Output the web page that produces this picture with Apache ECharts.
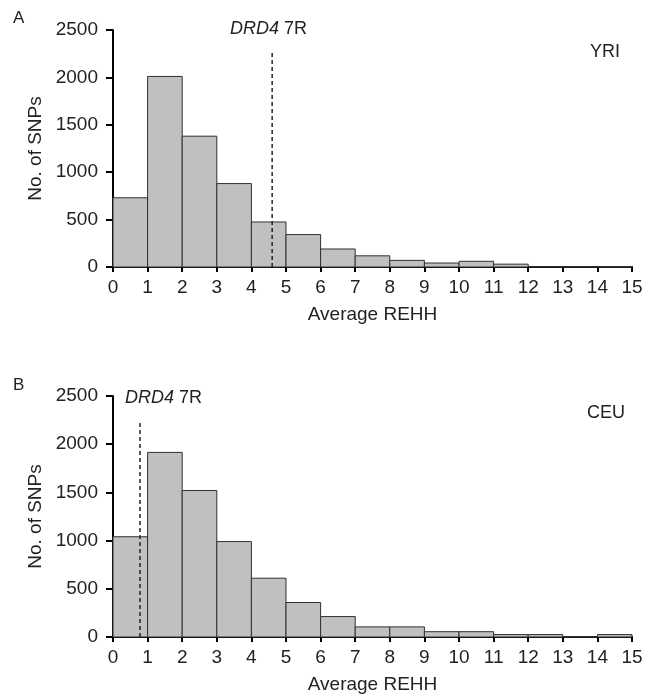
<!DOCTYPE html>
<html>
<head>
<meta charset="utf-8">
<script src="https://cdn.jsdelivr.net/npm/echarts@6/dist/echarts.min.js"></script>
<style>
html,body{margin:0;padding:0;background:#fff;}
#chart{width:655px;height:699px;}
</style>
</head>
<body>
<div id="chart"></div>
<script>
// Bin edges (Average REHH)
var binStarts = [0,1,2,3,4,5,6,7,8,9,10,11,12,13,14];
var xTicks = [0,1,2,3,4,5,6,7,8,9,10,11,12,13,14,15];
var yTicks = [0,500,1000,1500,2000,2500];
// Panel A: YRI counts
var yriCounts = [730,2010,1380,880,475,342,190,118,70,42,60,30,5,3,2];
// Panel B: CEU counts
var ceuCounts = [1040,1915,1520,990,610,358,212,105,105,55,55,25,25,4,25];
// DRD4 7R markers
var yriDrd4 = 4.6, yriDrd4Top = 2290;
var ceuDrd4 = 0.78, ceuDrd4Top = 2230;

var TXT = '#222';
var FONT = 'Liberation Sans, Arial, sans-serif';

function histData(counts){
  return binStarts.map(function(s,i){ return [s, s+1, counts[i]]; });
}
function renderBin(params, api){
  var p0 = api.coord([api.value(0), 0]);
  var p1 = api.coord([api.value(1), api.value(2)]);
  return {
    type:'rect',
    shape:{x:p0[0], y:p1[1], width:p1[0]-p0[0], height:p0[1]-p1[1]},
    style:{fill:'#c0c0c0', stroke:'#303030', lineWidth:1}
  };
}
function xAxis(idx){
  return {
    type:'value', gridIndex:idx, min:xTicks[0], max:xTicks[xTicks.length-1], interval:1,
    name:'Average REHH', nameLocation:'middle', nameGap:38,
    nameTextStyle:{color:TXT, fontSize:19, fontFamily:FONT},
    axisLine:{show:true, onZero:false, lineStyle:{color:'#000', width:2}},
    axisTick:{show:true, length:5, lineStyle:{color:'#000', width:2}},
    axisLabel:{color:TXT, fontSize:19, fontFamily:FONT, margin:11, formatter:function(v){return String(v);}},
    splitLine:{show:false}
  };
}
function yAxis(idx){
  return {
    type:'value', gridIndex:idx, min:yTicks[0], max:yTicks[yTicks.length-1], interval:500,
    name:'No. of SNPs', nameLocation:'middle', nameGap:68,
    nameTextStyle:{color:TXT, fontSize:19, fontFamily:FONT},
    axisLine:{show:true, lineStyle:{color:'#000', width:2}},
    axisTick:{show:true, length:7, lineStyle:{color:'#000', width:2}},
    axisLabel:{color:TXT, fontSize:19, fontFamily:FONT, margin:15, formatter:function(v){return String(v);}},
    splitLine:{show:false}
  };
}
var chart = echarts.init(document.getElementById('chart'), null, {renderer:'canvas'});
chart.setOption({
  backgroundColor:'#fff',
  animation:false,
  grid:[
    {left:113, right:23, top:30, bottom:432},
    {left:113, right:23, top:396, bottom:62}
  ],
  xAxis:[xAxis(0), xAxis(1)],
  yAxis:[yAxis(0), yAxis(1)],
  series:[
    {type:'custom', xAxisIndex:0, yAxisIndex:0, renderItem:renderBin, data:histData(yriCounts), z:2},
    {type:'custom', xAxisIndex:1, yAxisIndex:1, renderItem:renderBin, data:histData(ceuCounts), z:2},
    {type:'line', xAxisIndex:0, yAxisIndex:0, data:[[yriDrd4,0],[yriDrd4,yriDrd4Top]], symbol:'none',
     lineStyle:{color:'#222', width:1.5, type:[4,3]}, z:3},
    {type:'line', xAxisIndex:1, yAxisIndex:1, data:[[ceuDrd4,0],[ceuDrd4,ceuDrd4Top]], symbol:'none',
     lineStyle:{color:'#222', width:1.5, type:[4,3]}, z:3}
  ],
  graphic:[
    {type:'text', left:13, top:10, style:{text:'A', fill:TXT, font:'17px '+FONT}},
    {type:'text', left:13, top:377, style:{text:'B', fill:TXT, font:'17px '+FONT}},
    {type:'text', left:590, top:43, style:{text:'YRI', fill:TXT, font:'18px '+FONT}},
    {type:'text', left:587, top:404, style:{text:'CEU', fill:TXT, font:'18px '+FONT}},
    {type:'text', left:230, top:20, style:{text:'{i|DRD4} 7R', fill:TXT, font:'18px '+FONT,
      rich:{i:{fontStyle:'italic', fontSize:18, fontFamily:FONT, fill:TXT}}}},
    {type:'text', left:125, top:389, style:{text:'{i|DRD4} 7R', fill:TXT, font:'18px '+FONT,
      rich:{i:{fontStyle:'italic', fontSize:18, fontFamily:FONT, fill:TXT}}}}
  ]
});
</script>
</body>
</html>
